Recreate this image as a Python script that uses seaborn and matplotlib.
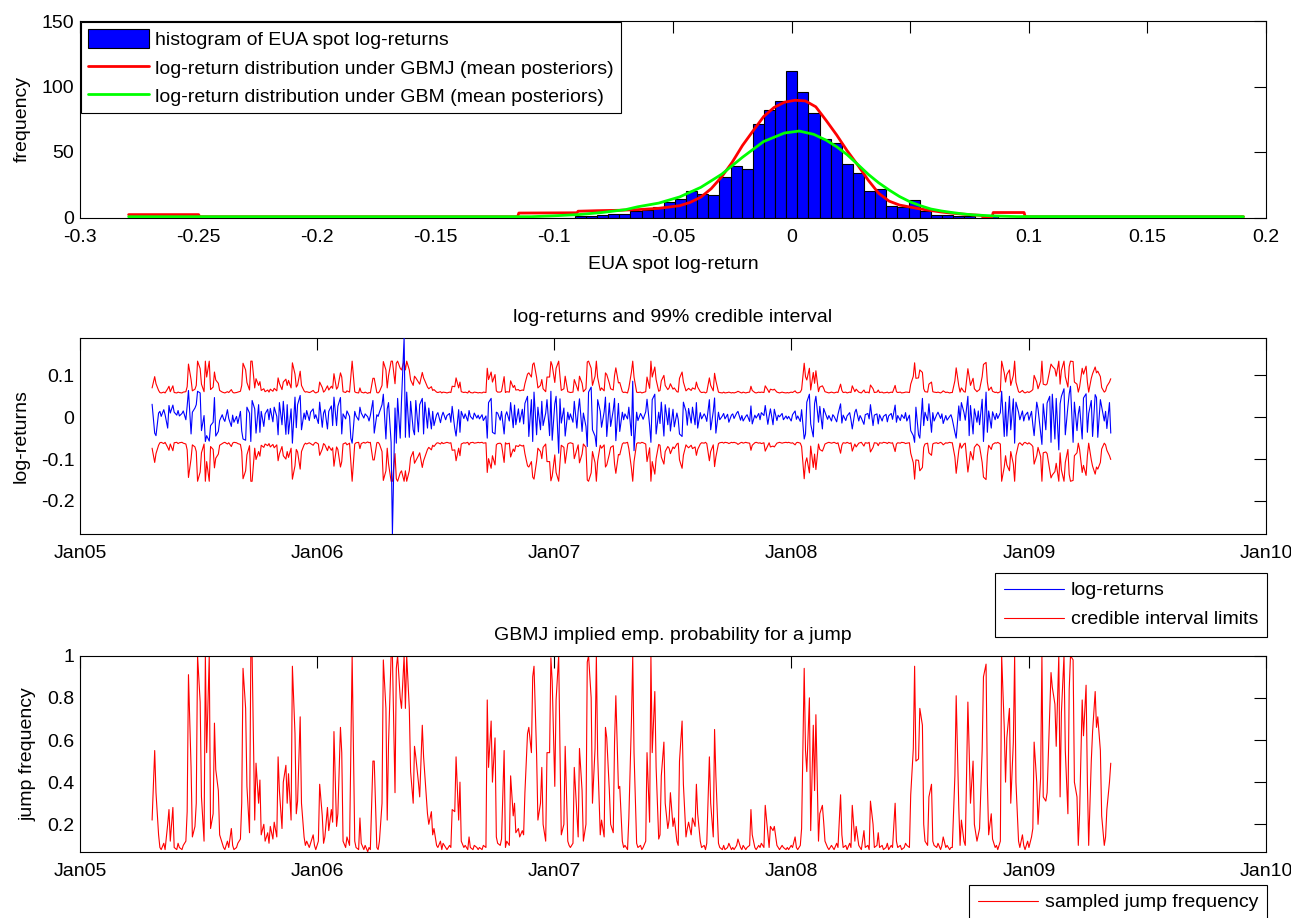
import numpy as np
import pandas as pd
import matplotlib
matplotlib.use("Agg")
import matplotlib.pyplot as plt
import matplotlib.dates as mdates
from matplotlib.ticker import FuncFormatter
from matplotlib.lines import Line2D
from matplotlib.patches import Patch
import seaborn as sns

# ---------------------------------------------------------------- data
# counts of the 100 equal-width bins spanning [min, max] of the log-returns
hist_counts = ([1] + [0] * 34 +
               [1, 0, 0, 0, 0, 1, 1, 2, 3, 3, 5,
                6, 8, 12, 14, 20, 18, 17, 31, 39, 37, 71, 82, 89, 112, 96,
                80, 60, 57, 41, 34, 20, 22, 9, 8, 13, 5, 2, 2, 1, 1,
                0, 1, 0, 0, 1] +
               [0] * 18 + [1])

# fitted log-return distributions (scaled to histogram counts)
gbmj_x = [-0.2795, -0.2500, -0.2495, -0.1155, -0.1150, -0.0905, -0.0900, -0.0820,
          -0.0730, -0.0648, -0.0560, -0.0472, -0.0428, -0.0383, -0.0339, -0.0295,
          -0.0251, -0.0207, -0.0163, -0.0118, -0.0074, -0.0030, 0.0014, 0.0058,
          0.0102, 0.0146, 0.0190, 0.0234, 0.0279, 0.0323, 0.0367, 0.0411, 0.0455,
          0.0499, 0.0543, 0.0587, 0.0631, 0.0676, 0.0720, 0.0764, 0.0800, 0.0805,
          0.0845, 0.0850, 0.0980, 0.0985, 0.1905]
gbmj_y = [2.2, 2.2, 0.6, 0.6, 3.4, 3.6, 4.8, 5.2,
          5.5, 6.0, 7.0, 9.0, 11.5, 15.5, 22.0, 31.0,
          42.0, 55.0, 66.0, 77.0, 84.0, 88.0, 89.5, 89.0,
          84.5, 74.0, 63.0, 51.0, 40.0, 28.5, 18.5, 12.5, 9.5,
          8.0, 6.5, 5.3, 4.2, 3.3, 2.6, 2.0, 1.6, 0.6,
          0.6, 3.8, 3.8, 0.6, 0.6]

gbm_x = [-0.2795, -0.1100, -0.1000, -0.0900, -0.0800, -0.0700, -0.0648, -0.0560,
         -0.0472, -0.0383, -0.0295, -0.0207, -0.0118, -0.0030, 0.0032, 0.0093,
         0.0146, 0.0190, 0.0234, 0.0279, 0.0323, 0.0367, 0.0411, 0.0455, 0.0499,
         0.0543, 0.0587, 0.0631, 0.0676, 0.0720, 0.0764, 0.0852, 0.0950, 0.1905]
gbm_y = [0.6, 0.6, 1.3, 2.2, 3.8, 6.0, 8.2, 11.0,
         15.7, 23.0, 33.0, 46.0, 58.0, 64.5, 66.0, 63.5,
         59.0, 54.0, 48.0, 40.5, 33.0, 26.5, 21.0, 16.0, 12.0,
         9.0, 6.5, 5.0, 3.8, 2.8, 2.0, 1.2, 0.7, 0.6]

# EUA spot log-returns, every second trading day from 22 Apr 2005 (x 1/1000)
log_return_milli = [
    31, -38, -44, 10, 14, 2, 18, 6, -26, 28,
    10, 29, 12, 5, 16, 3, 9, 15, -6, 27,
    64, -40, 12, 22, 30, 62, 58, -32, 4, -58,
    -44, -57, -20, -12, 47, -45, -34, -8, 6, -4,
    -10, 18, -3, -22, 5, -12, 2, -15, 14, -33,
    -52, -55, 24, 10, -58, 40, 20, -38, 30, -36,
    14, -22, 8, 19, -6, 21, -11, 24, 2, -42,
    35, -18, 38, -41, 30, -40, 20, -62, 48, -25,
    30, 52, -30, 10, -5, 16, -8, 12, 20, -3,
    6, -15, 36, -24, 10, 18, -28, 14, 27, -20,
    48, -20, 26, 47, -40, 8, -4, 15, 2, -50,
    -62, 14, 3, -7, 24, 10, -2, 8, 1, -9,
    4, 40, -38, 6, 2, 12, 30, 55, -52, 20,
    35, -60, -279, 22, -62, 45, -50, 40, 190, -48,
    60, -48, 38, -30, -42, 40, -35, 30, 45, -40,
    36, -26, 22, -28, 14, -20, 6, 11, -13, 3,
    12, -6, 4, 9, -12, 26, -27, -45, 18, -36,
    14, -3, 8, -9, 16, 2, -5, 10, -2, 5,
    -4, 6, -8, 3, -50, 35, 45, -36, -40, 12,
    10, -7, 14, -40, 4, 13, -9, 35, -25, 29,
    -18, 20, -12, 19, -16, 33, 50, -46, 42, -58,
    60, -42, 24, -30, 38, -20, 10, 42, -44, 62,
    -55, 32, 50, -86, 44, -14, 22, -45, 12, -6,
    8, -12, 38, -26, 15, 44, -34, 10, -22, -70,
    60, 72, -30, -45, -70, 42, 14, -24, 13, 48,
    -46, 34, -22, 17, 45, -56, 33, -34, 12, -6,
    8, -4, 24, -44, 86, -80, 12, -8, 9, 3,
    -5, 13, 43, -20, -60, 42, 55, -40, 12, -15,
    36, -45, 30, -18, 22, -33, 19, -23, 10, -5,
    -40, -46, 36, 14, -19, 21, -14, 24, -18, 35,
    -26, 11, -4, 8, 2, -10, 42, -30, 14, 46,
    -38, 12, -6, 3, 9, -4, 7, -12, 5, 8,
    -3, 10, 14, -7, 4, -9, 2, 6, -10, 27,
    -16, 5, -2, 9, -6, 11, 4, 28, -17, 3,
    20, -18, 19, -8, 5, 1, 9, -6, 3, -4,
    2, -9, 6, 15, -5, 3, -10, 18, -52, -40,
    36, 55, -16, -47, 33, 50, -12, 26, -28, 21,
    12, -5, 4, -9, 6, 2, -11, 7, 32, -14,
    5, -8, 3, 11, -6, -28, 12, 19, -9, 4,
    -2, -17, 6, 9, -4, 30, -20, 5, 8, -16,
    6, -9, 2, 7, -11, 3, 9, -5, 29, -12,
    4, -8, 6, -3, 11, -9, 5, -32, -44, -60,
    24, -42, -50, 45, -20, 12, -8, 32, -36, 11,
    -9, 6, 12, -3, 8, -15, 4, -7, 2, 6,
    -5, -36, -50, 27, -8, 35, 11, -7, 50, -44,
    28, -40, 20, -12, 15, -18, 43, -58, 60, -36,
    15, -26, 13, -6, 9, -3, 11, 62, -46, 36,
    -45, 50, -30, 44, -62, 36, 12, -6, 15, -9,
    4, 12, -7, 14, -18, -44, 36, 20, -37, -65,
    32, -30, 34, 50, -60, 55, -52, 45, -78, 32,
    50, 68, -42, 26, 56, 74, -60, 36, -32, 8,
    26, -52, 46, 56, -36, 9, 40, -46, 54, 47,
    -48, 42, 25, -9, 14, -27, 35, -38,
]

# upper / lower limits of the 99% credible interval (x 1/1000)
ci_upper_milli = [
    70, 97, 80, 64, 59, 58, 60, 58, 68, 74,
    61, 75, 59, 58, 60, 59, 58, 60, 61, 73,
    127, 90, 63, 67, 76, 134, 116, 79, 61, 134,
    96, 134, 66, 72, 108, 89, 81, 64, 60, 59,
    58, 61, 59, 66, 60, 58, 59, 60, 62, 76,
    129, 113, 83, 65, 134, 134, 70, 92, 76, 85,
    64, 68, 61, 65, 60, 67, 62, 69, 63, 94,
    81, 66, 84, 91, 76, 88, 70, 130, 103, 72,
    77, 110, 76, 63, 60, 61, 59, 60, 64, 60,
    58, 61, 84, 71, 60, 63, 75, 65, 74, 69,
    104, 67, 72, 106, 96, 61, 59, 63, 60, 97,
    134, 61, 59, 58, 70, 60, 58, 60, 57, 59,
    58, 93, 93, 59, 58, 61, 76, 133, 113, 70,
    99, 134, 134, 80, 129, 134, 117, 113, 134, 113,
    134, 113, 89, 76, 98, 94, 84, 79, 107, 94,
    87, 72, 68, 73, 64, 66, 60, 59, 61, 58,
    60, 59, 58, 60, 59, 74, 73, 94, 70, 84,
    61, 59, 60, 58, 63, 59, 58, 60, 59, 58,
    59, 58, 60, 59, 117, 90, 108, 84, 102, 63,
    60, 60, 62, 97, 59, 61, 60, 87, 71, 76,
    65, 66, 63, 65, 64, 80, 103, 106, 96, 126,
    130, 95, 70, 76, 90, 68, 61, 96, 96, 133,
    124, 83, 117, 134, 97, 64, 68, 98, 61, 60,
    59, 60, 90, 72, 63, 98, 81, 61, 68, 132,
    134, 117, 76, 98, 134, 95, 64, 70, 63, 106,
    102, 81, 68, 65, 100, 118, 82, 83, 61, 59,
    60, 58, 70, 108, 134, 96, 60, 59, 60, 58,
    59, 61, 96, 69, 134, 96, 120, 90, 62, 64,
    87, 100, 76, 66, 70, 80, 67, 70, 61, 60,
    93, 108, 84, 63, 66, 69, 64, 70, 67, 84,
    72, 61, 59, 60, 58, 60, 94, 76, 63, 105,
    87, 60, 59, 58, 60, 58, 59, 60, 58, 59,
    58, 60, 62, 59, 58, 60, 58, 59, 60, 74,
    64, 59, 58, 60, 59, 60, 59, 75, 65, 59,
    67, 65, 67, 60, 59, 58, 60, 59, 58, 59,
    58, 60, 59, 63, 59, 58, 60, 66, 129, 97,
    89, 117, 65, 107, 81, 111, 61, 72, 75, 69,
    61, 59, 58, 60, 59, 58, 60, 59, 79, 64,
    59, 60, 58, 60, 59, 75, 61, 67, 60, 59,
    58, 65, 59, 60, 58, 77, 68, 59, 60, 65,
    59, 60, 58, 59, 60, 58, 60, 59, 76, 61,
    59, 60, 58, 59, 60, 60, 59, 79, 98, 130,
    93, 94, 113, 107, 68, 61, 60, 79, 84, 61,
    60, 59, 60, 58, 60, 63, 59, 60, 58, 59,
    59, 87, 118, 75, 60, 70, 61, 60, 116, 97,
    76, 93, 68, 61, 64, 66, 97, 126, 131, 84,
    64, 72, 62, 59, 60, 58, 61, 134, 106, 84,
    102, 113, 76, 100, 134, 84, 61, 59, 64, 60,
    58, 61, 59, 63, 66, 100, 84, 68, 86, 134,
    79, 77, 80, 111, 127, 122, 115, 98, 134, 79,
    112, 134, 97, 72, 121, 134, 133, 84, 79, 60,
    72, 117, 103, 122, 84, 60, 93, 104, 120, 106,
    110, 97, 71, 60, 63, 74, 84, 92,
]

ci_lower_milli = [
    -74, -108, -87, -67, -61, -60, -63, -60, -72, -79,
    -64, -80, -61, -60, -63, -61, -60, -62, -64, -78,
    -144, -99, -66, -71, -82, -153, -131, -85, -64, -153,
    -106, -153, -70, -77, -121, -98, -88, -67, -63, -61,
    -60, -64, -61, -70, -62, -60, -61, -63, -65, -82,
    -147, -128, -90, -68, -153, -153, -74, -101, -82, -93,
    -67, -72, -64, -68, -63, -71, -65, -73, -66, -104,
    -88, -70, -92, -100, -82, -96, -74, -148, -116, -77,
    -83, -124, -82, -66, -62, -64, -61, -63, -67, -62,
    -60, -64, -91, -76, -63, -66, -80, -69, -79, -73,
    -117, -71, -77, -119, -106, -64, -61, -66, -62, -108,
    -153, -64, -61, -60, -75, -63, -60, -62, -59, -61,
    -60, -102, -102, -61, -60, -64, -82, -151, -128, -74,
    -111, -153, -153, -87, -147, -153, -133, -128, -153, -128,
    -153, -128, -97, -82, -110, -104, -92, -85, -120, -104,
    -95, -77, -72, -78, -67, -70, -62, -61, -64, -60,
    -63, -61, -60, -62, -61, -79, -78, -104, -74, -92,
    -64, -61, -62, -60, -66, -61, -60, -62, -61, -60,
    -61, -60, -62, -61, -132, -99, -122, -92, -114, -66,
    -63, -62, -65, -108, -61, -64, -62, -95, -76, -82,
    -68, -70, -66, -69, -67, -87, -116, -119, -106, -143,
    -148, -105, -74, -82, -99, -72, -64, -106, -106, -152,
    -141, -90, -132, -153, -108, -67, -72, -110, -64, -62,
    -61, -63, -99, -77, -66, -109, -88, -64, -72, -150,
    -153, -133, -82, -109, -153, -105, -67, -74, -66, -119,
    -114, -88, -72, -68, -112, -134, -89, -90, -64, -61,
    -62, -60, -75, -122, -153, -106, -63, -61, -62, -60,
    -61, -64, -106, -73, -153, -106, -136, -99, -65, -67,
    -95, -112, -82, -70, -74, -87, -71, -75, -64, -62,
    -102, -122, -91, -66, -70, -73, -67, -75, -71, -91,
    -77, -64, -61, -62, -60, -63, -104, -82, -66, -118,
    -95, -63, -61, -60, -62, -60, -61, -63, -60, -61,
    -60, -62, -65, -61, -60, -62, -60, -61, -62, -79,
    -67, -61, -60, -62, -61, -63, -61, -81, -68, -61,
    -71, -69, -71, -62, -61, -60, -62, -61, -60, -61,
    -60, -62, -61, -66, -61, -60, -62, -70, -147, -108,
    -97, -133, -69, -120, -88, -125, -64, -77, -81, -73,
    -64, -61, -60, -62, -61, -60, -63, -61, -86, -67,
    -61, -62, -60, -63, -61, -81, -64, -71, -62, -61,
    -60, -69, -61, -62, -60, -83, -72, -61, -62, -68,
    -61, -62, -60, -61, -63, -60, -62, -61, -82, -64,
    -61, -62, -60, -61, -63, -62, -61, -86, -109, -148,
    -102, -103, -128, -120, -72, -64, -62, -85, -91, -64,
    -62, -61, -63, -60, -62, -66, -61, -62, -60, -61,
    -61, -95, -134, -80, -62, -74, -64, -62, -131, -108,
    -82, -102, -72, -64, -67, -70, -108, -143, -149, -92,
    -67, -77, -65, -61, -62, -60, -64, -153, -119, -92,
    -114, -128, -82, -112, -153, -92, -64, -61, -67, -62,
    -60, -64, -61, -66, -70, -112, -92, -72, -94, -153,
    -85, -83, -87, -125, -145, -138, -130, -110, -153, -85,
    -126, -153, -108, -77, -137, -153, -151, -92, -85, -62,
    -77, -132, -115, -139, -92, -62, -102, -117, -136, -119,
    -124, -108, -76, -62, -66, -79, -92, -101,
]

# sampled jump frequency (x 1/100)
jump_freq_pct = [
    22, 55, 35, 15, 9, 8, 11, 8, 20, 27,
    12, 28, 9, 8, 11, 9, 8, 10, 12, 26,
    91, 47, 14, 19, 30, 100, 78, 33, 12, 100,
    54, 100, 18, 25, 68, 46, 36, 15, 11, 9,
    8, 12, 9, 18, 10, 8, 9, 11, 13, 30,
    94, 75, 38, 16, 100, 100, 22, 49, 30, 41,
    15, 20, 12, 16, 11, 19, 13, 21, 14, 52,
    36, 18, 40, 48, 30, 44, 22, 95, 63, 25,
    31, 71, 30, 14, 10, 12, 9, 11, 15, 10,
    8, 12, 39, 24, 11, 14, 28, 17, 27, 21,
    64, 19, 25, 66, 54, 12, 9, 14, 10, 55,
    100, 12, 9, 8, 23, 11, 8, 10, 7, 9,
    8, 50, 50, 9, 8, 12, 30, 98, 75, 22,
    58, 100, 100, 35, 94, 100, 80, 75, 100, 75,
    100, 75, 45, 30, 57, 52, 40, 33, 67, 52,
    43, 25, 20, 26, 15, 18, 10, 9, 12, 8,
    11, 9, 8, 10, 9, 27, 26, 52, 22, 40,
    12, 9, 10, 8, 14, 9, 8, 10, 9, 8,
    9, 8, 10, 9, 79, 47, 69, 40, 61, 14,
    11, 10, 13, 55, 9, 12, 10, 43, 24, 30,
    16, 18, 14, 17, 15, 35, 63, 66, 54, 90,
    95, 53, 22, 30, 47, 20, 12, 54, 54, 99,
    88, 38, 79, 100, 55, 15, 20, 57, 12, 10,
    9, 11, 47, 25, 14, 56, 36, 12, 20, 97,
    100, 80, 30, 56, 100, 53, 15, 22, 14, 66,
    61, 36, 20, 16, 59, 81, 37, 38, 12, 9,
    10, 8, 23, 69, 100, 54, 11, 9, 10, 8,
    9, 12, 54, 21, 100, 54, 83, 47, 13, 15,
    43, 59, 30, 18, 22, 35, 19, 23, 12, 10,
    50, 69, 39, 14, 18, 21, 15, 23, 19, 39,
    25, 12, 9, 10, 8, 11, 52, 30, 14, 65,
    43, 11, 9, 8, 10, 8, 9, 11, 8, 9,
    8, 10, 13, 9, 8, 10, 8, 9, 10, 27,
    15, 9, 8, 10, 9, 11, 9, 29, 16, 9,
    19, 17, 19, 10, 9, 8, 10, 9, 8, 9,
    8, 10, 9, 14, 9, 8, 10, 18, 94, 55,
    45, 80, 17, 67, 36, 72, 12, 25, 29, 21,
    12, 9, 8, 10, 9, 8, 11, 9, 34, 15,
    9, 10, 8, 11, 9, 29, 12, 19, 10, 9,
    8, 17, 9, 10, 8, 31, 20, 9, 10, 16,
    9, 10, 8, 9, 11, 8, 10, 9, 30, 12,
    9, 10, 8, 9, 11, 10, 9, 34, 56, 95,
    50, 51, 75, 67, 20, 12, 10, 33, 39, 12,
    10, 9, 11, 8, 10, 14, 9, 10, 8, 9,
    9, 43, 81, 28, 10, 22, 12, 10, 78, 55,
    30, 50, 20, 12, 15, 18, 55, 90, 96, 40,
    15, 25, 13, 9, 10, 8, 12, 100, 66, 40,
    61, 75, 30, 59, 100, 40, 12, 9, 15, 10,
    8, 12, 9, 14, 18, 59, 40, 20, 42, 100,
    33, 31, 35, 72, 92, 85, 77, 57, 100, 33,
    73, 100, 55, 25, 84, 100, 98, 40, 33, 10,
    25, 79, 62, 86, 40, 10, 50, 64, 83, 66,
    71, 55, 24, 10, 14, 27, 40, 49,
]

n_obs = len(log_return_milli)
assert len(ci_upper_milli) == n_obs and len(ci_lower_milli) == n_obs
assert len(jump_freq_pct) == n_obs and len(hist_counts) == 100

# ---------------------------------------------------------------- style
sns.set_theme(style="white")
plt.rcParams.update({
    "axes.edgecolor": "black",
    "axes.linewidth": 0.8,
    "axes.labelcolor": "black",
    "text.color": "black",
    "xtick.color": "black",
    "ytick.color": "black",
    "axes.unicode_minus": False,
    "font.size": 14,
})
plt.rcParams["font.family"] = ["Liberation Sans", "DejaVu Sans"]

BLUE, RED, GREEN = "#0000ff", "#ff0000", "#00ff00"
FS = 14

W, H = 1291, 918
fig = plt.figure(figsize=(W / 100, H / 100), dpi=100)


def add_axes_px(left, top, right, bottom):
    return fig.add_axes([left / W, 1 - bottom / H, (right - left) / W, (bottom - top) / H])


def style_axes(ax):
    for sp in ax.spines.values():
        sp.set_visible(True)
        sp.set_color("black")
        sp.set_linewidth(0.8)
    ax.tick_params(direction="in", length=8.5, width=0.8, color="black",
                   top=True, right=True, labelsize=FS, labelcolor="black")
    ax.tick_params(axis="x", pad=8)
    ax.tick_params(axis="y", pad=4)


plain = FuncFormatter(lambda v, p: "0" if abs(v) < 1e-9 else f"{v:g}")

ax1 = add_axes_px(80, 21, 1266, 217.5)
ax2 = add_axes_px(80, 337.7, 1266, 534)
ax3 = add_axes_px(80, 655.7, 1266, 851.7)

# ---------------------------------------------------------------- histogram panel
ret = np.array(log_return_milli) / 1000.0
edges = np.linspace(ret.min(), ret.max(), len(hist_counts) + 1)
hist_df = pd.DataFrame({"center": 0.5 * (edges[:-1] + edges[1:]),
                        "count": np.array(hist_counts, dtype=float)})

sns.histplot(data=hist_df, x="center", weights="count",
             bins=len(hist_counts), binrange=(ret.min(), ret.max()),
             color=BLUE, edgecolor="black", linewidth=0.8, alpha=1.0, ax=ax1)
sns.lineplot(x=gbmj_x, y=gbmj_y, color=RED, lw=2, sort=False,
             estimator=None, ax=ax1, zorder=3)
sns.lineplot(x=gbm_x, y=gbm_y, color=GREEN, lw=2, sort=False,
             estimator=None, ax=ax1, zorder=3)

style_axes(ax1)
ax1.set_axisbelow(True)
ax1.set_xlim(-0.3, 0.2)
ax1.set_ylim(0, 150)
ax1.set_xticks(np.round(np.arange(-0.3, 0.2001, 0.05), 2))
ax1.set_yticks([0, 50, 100, 150])
ax1.xaxis.set_major_formatter(plain)
ax1.yaxis.set_major_formatter(plain)
ax1.set_xlabel("EUA spot log-return", fontsize=FS, labelpad=7.5)
ax1.set_ylabel("frequency", fontsize=FS, labelpad=8)

leg1 = ax1.legend(
    handles=[Patch(facecolor=BLUE, edgecolor="black", linewidth=0.8),
             Line2D([], [], color=RED, lw=2),
             Line2D([], [], color=GREEN, lw=2)],
    labels=["histogram of EUA spot log-returns",
            "log-return distribution under GBMJ (mean posteriors)",
            "log-return distribution under GBM (mean posteriors)"],
    loc="upper left", bbox_to_anchor=(0, 1), borderaxespad=0.05,
    fontsize=FS, handlelength=3.1, handleheight=1.08, handletextpad=0.35,
    labelspacing=0.44, borderpad=0.38, frameon=True, fancybox=False,
    edgecolor="black", framealpha=1)
leg1.get_frame().set_linewidth(0.8)

# ---------------------------------------------------------------- time axes
dates = pd.bdate_range("2005-04-22", periods=2 * n_obs, freq="B")[::2]
series = pd.DataFrame({
    "date": dates,
    "ret": ret,
    "upper": np.array(ci_upper_milli) / 1000.0,
    "lower": np.array(ci_lower_milli) / 1000.0,
    "jump": np.array(jump_freq_pct) / 100.0,
})

x_lo, x_hi = pd.Timestamp("2005-01-01"), pd.Timestamp("2010-01-01")


def date_axis(ax):
    ax.set_xlim(x_lo, x_hi)
    ax.xaxis.set_major_locator(mdates.YearLocator())
    ax.xaxis.set_major_formatter(mdates.DateFormatter("%b%y"))
    ax.set_xlabel("")


trace = dict(lw=0.8, estimator=None)

sns.lineplot(data=series, x="date", y="upper", color=RED, ax=ax2, **trace)
sns.lineplot(data=series, x="date", y="lower", color=RED, ax=ax2, **trace)
sns.lineplot(data=series, x="date", y="ret", color=BLUE, ax=ax2, zorder=3, **trace)
style_axes(ax2)
date_axis(ax2)
ax2.set_ylim(ret.min(), ret.max())
ax2.set_yticks([-0.2, -0.1, 0.0, 0.1])
ax2.yaxis.set_major_formatter(plain)
ax2.set_ylabel("log-returns", fontsize=FS, labelpad=8)
ax2.set_title("log-returns and 99% credible interval", fontsize=FS, pad=11)

legend_style = dict(fontsize=FS, handlelength=3.1, handletextpad=0.35,
                    labelspacing=0.59, borderpad=0.45, frameon=True,
                    fancybox=False, edgecolor="black", framealpha=1,
                    borderaxespad=0, loc="upper right")

leg2 = fig.legend(
    handles=[Line2D([], [], color=BLUE, lw=0.8), Line2D([], [], color=RED, lw=0.8)],
    labels=["log-returns", "credible interval limits"],
    bbox_to_anchor=(1267 / W, 1 - 573 / H), **legend_style)
leg2.get_frame().set_linewidth(0.8)

sns.lineplot(data=series, x="date", y="jump", color=RED, ax=ax3, **trace)
style_axes(ax3)
date_axis(ax3)
ax3.set_ylim(series["jump"].min(), 1.0)
ax3.set_yticks([0.2, 0.4, 0.6, 0.8, 1.0])
ax3.yaxis.set_major_formatter(plain)
ax3.set_ylabel("jump frequency", fontsize=FS, labelpad=8)
ax3.set_title("GBMJ implied emp. probability for a jump", fontsize=FS, pad=11)

leg3 = fig.legend(
    handles=[Line2D([], [], color=RED, lw=0.8)],
    labels=["sampled jump frequency"],
    bbox_to_anchor=(1267 / W, 1 - 885 / H), **legend_style)
leg3.get_frame().set_linewidth(0.8)

fig.savefig("out.png", dpi=100)
